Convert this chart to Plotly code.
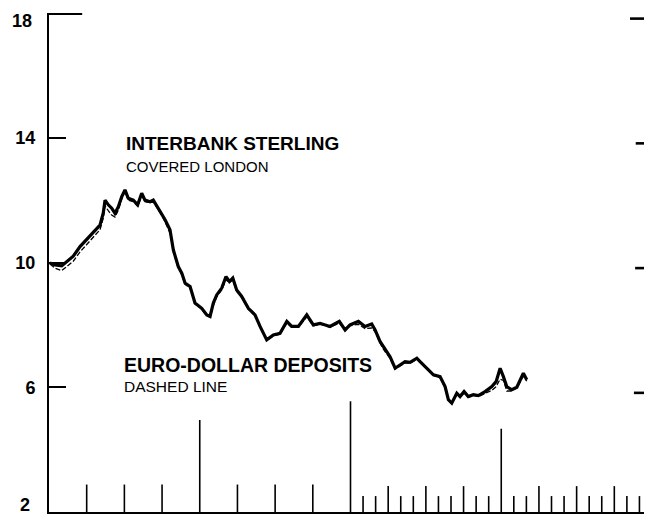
import plotly.graph_objects as go

# Months from the start of the period (x axis spans 48 months)
months = [0.08, 0.48, 1.01, 1.41, 1.93, 2.47, 3.00, 3.53, 4.06, 4.32, 4.46, 4.72, 4.99, 5.25,
          5.52, 5.79, 6.05, 6.31, 6.71, 7.06, 7.38, 7.64, 8.04, 8.30, 8.70, 8.97, 9.24, 9.63,
          9.90, 10.29, 10.57, 10.83, 11.23, 11.62, 12.16, 12.56, 12.82, 13.08, 13.35, 13.75,
          14.09, 14.36, 14.63, 14.94, 15.34, 15.87, 16.40, 16.80, 17.33, 17.86, 18.39, 18.93,
          19.32, 19.85, 20.52, 21.04, 21.58, 22.37, 23.11, 23.57, 23.96, 24.63, 25.16, 25.69,
          25.96, 26.35, 26.62, 27.15, 27.55, 27.95, 28.34, 28.74, 29.28, 29.54, 30.07, 30.60,
          31.13, 31.53, 31.79, 32.06, 32.46, 32.72, 33.04, 33.38, 33.78, 34.18, 34.71, 35.25,
          35.59, 35.91, 36.17, 36.44, 36.84, 37.24, 37.76, 38.03]

# Interbank sterling, covered, London (solid)
interbank = [9.98, 9.92, 9.89, 10.03, 10.20, 10.51, 10.75, 10.99, 11.20, 11.59, 12.00, 11.85, 11.74, 11.58,
             11.79, 12.11, 12.33, 12.06, 12.00, 11.85, 12.22, 12.00, 11.95, 12.00, 11.74, 11.58, 11.37, 11.05,
             10.40, 9.87, 9.66, 9.34, 9.23, 8.70, 8.53, 8.32, 8.27, 8.70, 8.96, 9.18,
             9.55, 9.39, 9.50, 9.12, 8.91, 8.53, 8.32, 7.95, 7.52, 7.68, 7.73, 8.11,
             7.95, 7.95, 8.32, 8.00, 8.05, 7.95, 8.11, 7.84, 8.00, 8.11, 7.95, 8.03,
             7.84, 7.47, 7.30, 6.98, 6.61, 6.72, 6.82, 6.80, 6.93, 6.82, 6.61, 6.40,
             6.34, 6.02, 5.60, 5.49, 5.81, 5.70, 5.86, 5.70, 5.76, 5.73, 5.86, 6.02,
             6.18, 6.61, 6.34, 6.02, 5.92, 6.00, 6.45, 6.24]

# Euro-dollar deposits (dashed)
eurodollar = [9.95, 9.82, 9.74, 9.86, 10.04, 10.34, 10.58, 10.82, 11.05, 11.42, 11.82, 11.66, 11.52, 11.46,
              11.68, 12.04, 12.28, 12.00, 11.95, 11.80, 12.15, 11.95, 11.92, 11.95, 11.70, 11.52, 11.30, 10.95,
              10.35, 9.82, 9.60, 9.30, 9.18, 8.68, 8.50, 8.30, 8.25, 8.62, 8.90, 9.12,
              9.45, 9.35, 9.45, 9.08, 8.88, 8.50, 8.30, 7.93, 7.50, 7.65, 7.70, 8.06,
              7.92, 7.92, 8.26, 7.97, 8.02, 7.92, 8.06, 7.82, 7.97, 8.02, 7.88, 7.90,
              7.78, 7.42, 7.22, 6.92, 6.58, 6.68, 6.78, 6.77, 6.90, 6.80, 6.58, 6.38,
              6.30, 5.98, 5.58, 5.48, 5.78, 5.68, 5.82, 5.68, 5.74, 5.70, 5.80, 5.90,
              6.02, 6.26, 6.22, 5.88, 5.88, 5.98, 6.36, 6.20]

y_ticks = [2, 6, 10, 14, 18]
y_tick_labels = ["2", "6", "10", "14", "18"]

# Time-axis tick marks (month positions)
quarter_ticks_early = [3, 6, 9, 15, 18, 21]
year_ticks = [12, 24, 36]
monthly_ticks_late = [m for m in range(25, 49) if m != 36]

fig = go.Figure()

fig.add_trace(go.Scatter(x=months, y=eurodollar, mode="lines",
                         line=dict(color="black", width=1.3, dash="5px,2px"),
                         name="Euro-dollar deposits", showlegend=False))
fig.add_trace(go.Scatter(x=months, y=interbank, mode="lines",
                         line=dict(color="black", width=3.2),
                         name="Interbank sterling, covered London", showlegend=False))

shapes = []
base = 2
tick_style = dict(color="black", width=1.6)
for m in quarter_ticks_early:
    shapes.append(dict(type="line", xref="x", yref="y", x0=m, x1=m, y0=base, y1=base + 0.88,
                       line=tick_style))
year_heights = {12: 2.95, 24: 3.55, 36: 2.67}
for m in year_ticks:
    shapes.append(dict(type="line", xref="x", yref="y", x0=m, x1=m, y0=base, y1=base + year_heights[m],
                       line=tick_style))
for m in monthly_ticks_late:
    h = 0.83 if m % 3 == 0 else 0.51
    shapes.append(dict(type="line", xref="x", yref="y", x0=m, x1=m, y0=base, y1=base + h,
                       line=tick_style))

# extended top tick on the left axis
shapes.append(dict(type="line", xref="paper", yref="y", x0=0, x1=0.055, y0=17.975, y1=17.975,
                   line=dict(color="black", width=2.4)))
# right-edge tick marks
right_starts = {18: 0.9635, 14: 0.973, 10: 0.972, 6: 0.970}
for v in [18, 14, 10, 6]:
    shapes.append(dict(type="line", xref="paper", yref="y", x0=right_starts[v], x1=1.0,
                       y0=v - 0.18, y1=v - 0.18, line=dict(color="black", width=2.6)))

label_font = dict(family="Liberation Sans", size=18, color="black", weight="bold")
annotations = [
    dict(text="INTERBANK STERLING", x=6.0, y=13.8, xref="x", yref="y", xanchor="left", yanchor="middle",
         showarrow=False, font=dict(family="Liberation Sans", size=19, color="black", weight="bold")),
    dict(text="COVERED LONDON", x=6.0, y=13.08, xref="x", yref="y", xanchor="left", yanchor="middle",
         showarrow=False, font=dict(family="Liberation Sans", size=15, color="black")),
    dict(text="EURO-DOLLAR DEPOSITS", x=5.85, y=6.70, xref="x", yref="y", xanchor="left", yanchor="middle",
         showarrow=False, font=dict(family="Liberation Sans", size=19.5, color="black", weight="bold")),
    dict(text="DASHED LINE", x=5.85, y=6.03, xref="x", yref="y", xanchor="left", yanchor="middle",
         showarrow=False, font=dict(family="Liberation Sans", size=15.5, color="black")),
    # end-of-scale labels sit just inside the axis ends
    dict(text=y_tick_labels[-1], x=0, y=y_ticks[-1], xref="paper", yref="y", xanchor="right", yanchor="middle",
         xshift=-15, yshift=-8, showarrow=False, font=label_font),
    dict(text=y_tick_labels[0], x=0, y=y_ticks[0], xref="paper", yref="y", xanchor="right", yanchor="middle",
         xshift=-17, yshift=7, showarrow=False, font=label_font),
]

# The page body adds an 8px margin, so the figure is sized/offset to compensate
fig.update_layout(
    width=644, height=509,
    margin=dict(l=41, r=0, t=5, b=4.5),
    paper_bgcolor="white", plot_bgcolor="white",
    shapes=shapes, annotations=annotations,
    showlegend=False,
    xaxis=dict(range=[0, 48], showgrid=False, zeroline=False, showticklabels=False, ticks="",
               showline=True, linecolor="black", linewidth=2),
    yaxis=dict(range=[2, 18], showgrid=False, zeroline=False, showline=True, linecolor="black", linewidth=2,
               tickvals=y_ticks[1:-1], ticktext=y_tick_labels[1:-1], ticks="inside", ticklen=17, tickwidth=2,
               tickcolor="black", ticklabelstandoff=8,
               tickfont=label_font),
)

fig.write_html("out.html")
